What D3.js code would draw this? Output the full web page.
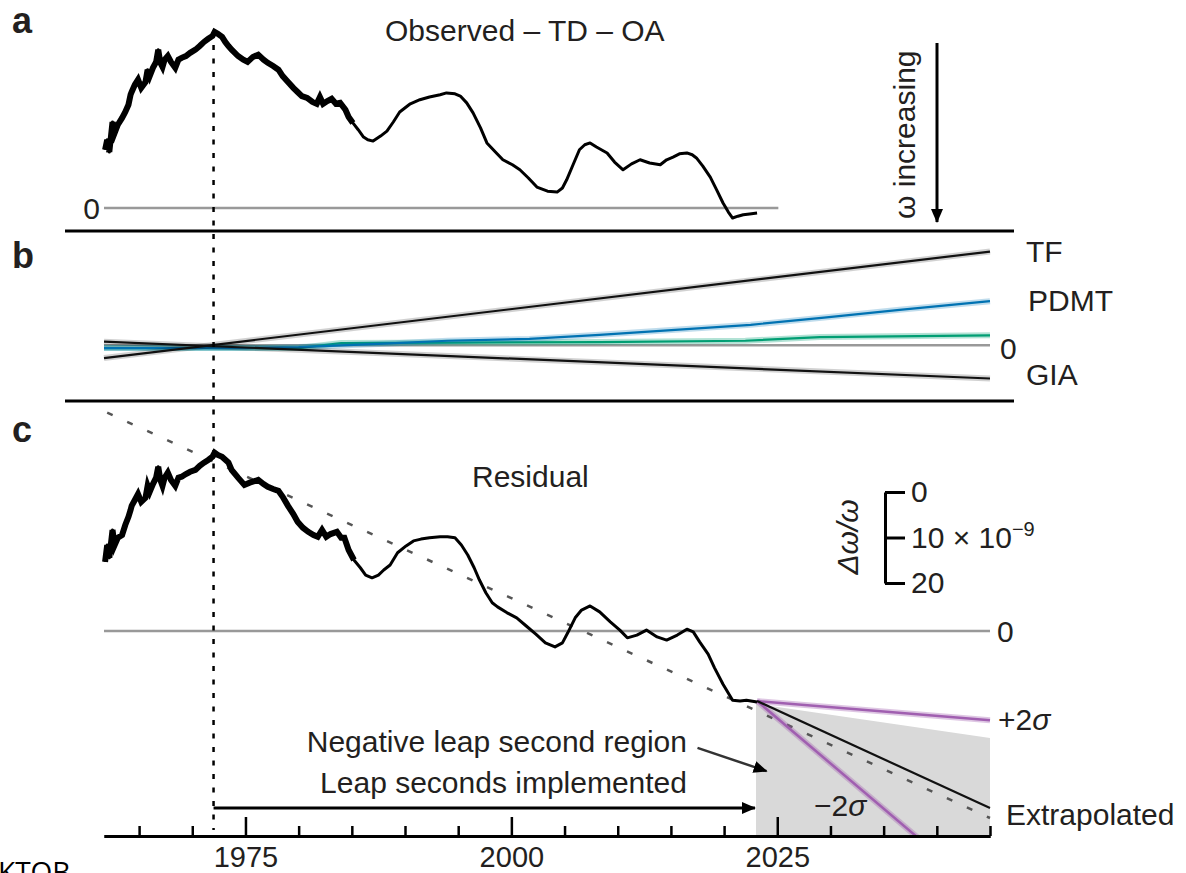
<!DOCTYPE html>
<html>
<head>
<meta charset="utf-8">
<script src="https://cdn.jsdelivr.net/npm/d3@7"></script>
<style>
	body { margin: 0; background: #fff; }
	svg { display: block; }
	text { font-family: "Liberation Sans", Arial, sans-serif; fill: #231f20; }
</style>
</head>
<body>
<svg id="chart" width="1186" height="873"></svg>
<script>

//Values are delta omega / omega in units of 1e-9, positive downward (omega increasing)

//panel a: observed - TD - OA  [year, value]
var observed = [
	[1961.8,-12.8],[1962.0,-15.0],[1962.2,-12.3],[1962.5,-18.9],[1962.7,-16.5],[1963.0,-18.3],[1963.4,-19.8],
	[1963.7,-21.1],[1964.0,-22.7],[1964.2,-24.9],[1964.3,-25.5],[1964.6,-27.1],[1964.9,-28.2],[1965.2,-26.4],
	[1965.6,-27.7],[1965.8,-30.4],[1966.0,-29.0],[1966.3,-30.8],[1966.6,-32.1],[1966.8,-34.8],[1967.0,-31.9],
	[1967.2,-31.0],[1967.4,-32.6],[1967.7,-33.4],[1968.0,-32.1],[1968.4,-30.8],[1968.7,-32.6],[1969.0,-33.0],
	[1969.4,-33.4],[1969.8,-34.1],[1970.3,-34.8],[1970.7,-35.6],[1971.1,-36.5],[1971.5,-37.2],[1971.9,-37.8],
	[1972.1,-38.7],[1972.4,-38.3],[1972.8,-37.6],[1973.1,-36.5],[1973.4,-35.6],[1973.7,-34.8],[1974.3,-33.4],
	[1974.8,-32.6],[1975.2,-32.1],[1975.7,-33.2],[1976.2,-33.7],[1976.7,-32.6],[1977.1,-31.9],[1977.6,-31.2],
	[1978.1,-30.4],[1978.5,-29.0],[1979.0,-27.7],[1979.5,-26.4],[1979.9,-25.5],[1980.3,-24.6],[1980.8,-24.2],
	[1981.3,-23.3],[1981.7,-22.9],[1982.0,-24.4],[1982.3,-22.9],[1982.7,-23.5],[1983.1,-24.0],[1983.5,-22.9],
	[1983.9,-23.1],[1984.4,-21.6],[1984.7,-20.0],[1985.1,-18.7],[1985.6,-17.2],[1986.1,-15.6],[1986.5,-15.0],
	[1987.0,-14.7],[1987.7,-15.8],[1988.3,-16.9],[1988.9,-18.9],[1989.5,-21.1],[1990.5,-22.9],[1991.4,-23.8],
	[1992.3,-24.4],[1993.3,-24.9],[1993.9,-25.3],[1994.7,-25.1],[1995.2,-24.6],[1995.8,-23.1],[1996.4,-20.9],
	[1997.1,-17.6],[1997.7,-14.3],[1998.5,-12.3],[1999.2,-10.6],[2000.1,-9.5],[2000.8,-8.4],[2001.6,-6.6],
	[2002.4,-4.6],[2003.4,-3.7],[2004.3,-3.5],[2004.8,-4.4],[2005.2,-6.2],[2005.8,-9.5],[2006.4,-12.8],
	[2006.9,-13.9],[2007.4,-14.3],[2008.0,-13.4],[2009.0,-12.1],[2009.7,-10.1],[2010.5,-8.4],[2011.3,-9.7],
	[2012.1,-10.6],[2013.0,-9.9],[2014.0,-9.5],[2014.6,-10.6],[2015.2,-11.2],[2015.8,-11.9],[2016.5,-12.1],
	[2017.0,-11.7],[2017.4,-11.0],[2018.0,-9.2],[2018.7,-6.8],[2019.3,-4.0],[2019.9,-1.1],[2020.4,0.9],
	[2020.8,2.2],[2021.3,1.8],[2021.8,1.5],[2022.4,1.3],[2023.1,1.1]
];

//panel b contributions
var tf = [[1961.7, 2.8], [2045, -20.6]];
var gia = [[1961.7, -0.8], [2045, 7.3]];
var pdmt = [[1961.7,0.6],[1975,0.6],[1980,0.4],[1987.5,-0.3],[1994,-1.0],[2001.7,-1.4],[2008.3,-2.3],
	[2015.4,-3.4],[2022.5,-4.5],[2029.4,-6.1],[2036.5,-7.8],[2045,-9.7]];
var green = [[1961.7,0.6],[1980,0.6],[1984,-0.5],[1995,-0.6],[2008.3,-0.7],[2022,-1.0],[2029,-1.8],[2045,-2.2]];

//panel c: residual
var residual = [
	[1961.8,-15.2],[1962.0,-18.9],[1962.2,-16.1],[1962.5,-22.2],[1962.7,-18.9],[1963.0,-20.5],[1963.4,-21.1],
	[1963.7,-23.3],[1964.0,-25.1],[1964.2,-26.6],[1964.3,-27.5],[1964.6,-28.8],[1964.9,-30.1],[1965.2,-28.4],
	[1965.6,-29.3],[1965.8,-31.9],[1966.0,-30.6],[1966.3,-32.3],[1966.6,-33.7],[1966.8,-36.1],[1967.0,-33.2],
	[1967.2,-31.9],[1967.4,-33.7],[1967.7,-34.8],[1968.0,-33.2],[1968.4,-31.9],[1968.7,-33.7],[1969.0,-33.9],
	[1969.4,-34.5],[1969.8,-35.0],[1970.3,-35.4],[1970.7,-36.3],[1971.1,-37.0],[1971.5,-37.6],[1971.9,-38.3],
	[1972.1,-39.2],[1972.4,-38.7],[1972.8,-38.3],[1973.4,-37.0],[1973.7,-35.4],[1974.3,-33.7],[1974.9,-32.1],
	[1975.4,-32.6],[1976.2,-33.2],[1976.7,-32.3],[1977.1,-31.7],[1977.6,-31.2],[1978.1,-30.8],[1978.5,-29.5],
	[1979.0,-27.5],[1979.5,-25.7],[1979.9,-24.0],[1980.4,-22.7],[1980.9,-21.8],[1981.4,-21.1],[1981.8,-20.7],
	[1982.2,-22.2],[1982.6,-20.7],[1983.0,-21.3],[1983.6,-21.8],[1984.0,-20.5],[1984.3,-20.5],[1984.7,-17.8],
	[1985.2,-15.6],[1985.8,-13.9],[1986.3,-12.3],[1986.9,-11.7],[1987.5,-12.3],[1988.0,-13.4],[1988.6,-14.5],
	[1989.3,-17.2],[1990.1,-18.7],[1990.8,-19.8],[1991.5,-20.2],[1992.3,-20.5],[1993.3,-20.7],[1994.0,-20.7],
	[1994.7,-20.5],[1995.3,-18.9],[1995.9,-16.7],[1996.5,-13.9],[1997.0,-11.2],[1997.6,-8.4],[1998.2,-6.2],
	[1998.7,-5.3],[1999.6,-4.0],[2000.5,-2.9],[2001.4,-1.1],[2002.3,0.7],[2003.2,2.6],[2004.1,3.5],
	[2004.8,2.6],[2005.3,0.4],[2006.0,-2.9],[2006.6,-4.6],[2007.4,-5.5],[2008.3,-4.2],[2009.3,-2.0],
	[2010.2,-0.2],[2010.9,1.5],[2011.8,0.9],[2012.7,-0.2],[2013.7,1.3],[2014.6,2.0],[2015.6,0.9],
	[2016.5,-0.4],[2017.1,0.2],[2017.7,2.4],[2018.5,5.1],[2019.1,8.1],[2019.9,11.7],[2020.8,15.2],
	[2021.5,15.4],[2022.1,15.2],[2023.1,15.6]
];

var fit = [[1962, -48.0], [2045, 41.1]];
var extrapolated = [[2023.1, 15.4], [2045, 38.9]];
var plus_2sigma = [[2023.1, 15.4], [2045, 19.6]];
var minus_2sigma = [[2023.1, 15.4], [2045, 58.9]];
var region_top = [[2023.0, 16.0], [2045, 23.5]];
var region_bottom = 45.1;

//axis ticks
var ticks_minor = [1965, 1970, 1980, 1985, 1990, 1995, 2005, 2010, 2015, 2020, 2030, 2035, 2040, 2045];
var ticks_major = [1975, 2000, 2025];
var scale_bar_major = [0, 10, 20];
var scale_bar_minor = [5, 15];

var leap_start = 1972;
var leap_arrow = [[1972, 38.9], [2022.9, 38.9]];
var negative_arrow = [[2017.5, 25.7], [2024.0, 30.8]];

//the early records are noisy, drawn with a heavier stroke
var noisy_until = 1985.5;


var svg = d3.select("#chart");
var unit_px = 4.55;

var x = d3.scaleLinear().domain([1961.7, 2045]).range([104, 990]);

//each panel has the same vertical scale, only the zero differs
function panelScale(zero_y)
{
	return d3.scaleLinear().domain([0, 10]).range([zero_y, zero_y + 10 * unit_px]);
}

var ya = panelScale(208);
var yb = panelScale(345.3);
var yc = panelScale(631);

function lineFor(scale_y)
{
	return d3.line()
		.x(function(d){ return x(d[0]); })
		.y(function(d){ return scale_y(d[1]); });
}

//arrow head
var defs = svg.append("defs");

defs.append("marker")
		.attr("id", "head")
		.attr("viewBox", "0 0 14 14")
		.attr("refX", 13)
		.attr("refY", 7)
		.attr("markerWidth", 14)
		.attr("markerHeight", 14)
		.attr("markerUnits", "userSpaceOnUse")
		.attr("orient", "auto")
		.append("path")
			.attr("d", "M0,1L14,7L0,13z")
			.attr("fill", "#000");

defs.append("clipPath")
		.attr("id", "clip_c")
		.append("rect")
			.attr("x", 0).attr("y", 405)
			.attr("width", 1186).attr("height", 836 - 405);

//panel separators
[231, 401].forEach(function(y)
	{
		svg.append("line")
			.attr("x1", 65).attr("x2", 1014)
			.attr("y1", y).attr("y2", y)
			.attr("stroke", "#000")
			.attr("stroke-width", 3);
	}
);

//draws a noisy record: a normal line plus a heavier one over the early part
function drawRecord(g, data, scale_y)
{
	g.append("path")
		.datum(data)
		.attr("d", lineFor(scale_y))
		.attr("fill", "none").attr("stroke", "#000").attr("stroke-width", 3)
		.attr("stroke-linejoin", "round");

	g.append("path")
		.datum(data.filter(function(d){ return d[0] < noisy_until; }))
		.attr("d", lineFor(scale_y))
		.attr("fill", "none").attr("stroke", "#000").attr("stroke-width", 6)
		.attr("stroke-linejoin", "miter");
}

//---------- panel a
var ga = svg.append("g");

ga.append("line")
	.attr("x1", x(1961.7)).attr("x2", x(2025.1))
	.attr("y1", ya(0)).attr("y2", ya(0))
	.attr("stroke", "#999").attr("stroke-width", 2.5);

drawRecord(ga, observed, ya);

//---------- panel b
var gb = svg.append("g");

gb.append("line")
	.attr("x1", x(1961.7)).attr("x2", x(2045))
	.attr("y1", yb(0)).attr("y2", yb(0))
	.attr("stroke", "#999").attr("stroke-width", 2.5);

function drawContribution(data, colour, halo)
{
	gb.append("path")
		.datum(data)
		.attr("d", lineFor(yb))
		.attr("fill", "none").attr("stroke", halo).attr("stroke-width", 6);
	gb.append("path")
		.datum(data)
		.attr("d", lineFor(yb))
		.attr("fill", "none").attr("stroke", colour).attr("stroke-width", 2.2);
}

drawContribution(green, "#009e73", "rgba(0,158,115,0.3)");
drawContribution(pdmt, "#0072b2", "rgba(0,114,178,0.25)");
drawContribution(tf, "#111", "rgba(0,0,0,0.18)");
drawContribution(gia, "#111", "rgba(0,0,0,0.18)");

//---------- panel c
var gc = svg.append("g");
var gc_clip = gc.append("g").attr("clip-path", "url(#clip_c)");

var region = region_top.concat([[2045, region_bottom], [2023.0, region_bottom]]);
gc_clip.append("path")
	.attr("d", lineFor(yc)(region) + "Z")
	.attr("fill", "#d9d9d9");

gc.append("line")
	.attr("x1", x(1961.7)).attr("x2", x(2045))
	.attr("y1", yc(0)).attr("y2", yc(0))
	.attr("stroke", "#999").attr("stroke-width", 2.5);

gc_clip.append("path")
	.datum(fit)
	.attr("d", lineFor(yc))
	.attr("fill", "none").attr("stroke", "#555").attr("stroke-width", 2.5)
	.attr("stroke-dasharray", "6,16");

[plus_2sigma, minus_2sigma].forEach(function(d)
	{
		gc_clip.append("path")
			.datum(d)
			.attr("d", lineFor(yc))
			.attr("fill", "none").attr("stroke", "rgba(160,95,176,0.35)").attr("stroke-width", 6);
		gc_clip.append("path")
			.datum(d)
			.attr("d", lineFor(yc))
			.attr("fill", "none").attr("stroke", "#a05fb0").attr("stroke-width", 2.5);
	}
);

gc_clip.append("path")
	.datum(extrapolated)
	.attr("d", lineFor(yc))
	.attr("fill", "none").attr("stroke", "#111").attr("stroke-width", 2.2);

drawRecord(gc, residual, yc);

//annotation arrows
gc.append("path")
	.datum(leap_arrow)
	.attr("d", lineFor(yc))
	.attr("fill", "none").attr("stroke", "#000").attr("stroke-width", 3)
	.attr("marker-end", "url(#head)");

gc.append("path")
	.datum(negative_arrow)
	.attr("d", lineFor(yc))
	.attr("fill", "none").attr("stroke", "#333").attr("stroke-width", 2.5)
	.attr("marker-end", "url(#head)");

//vertical dotted line at 1972
svg.append("line")
	.attr("x1", x(leap_start)).attr("x2", x(leap_start))
	.attr("y1", 45).attr("y2", 830)
	.attr("stroke", "#000").attr("stroke-width", 2.5)
	.attr("stroke-dasharray", "5,8.5");

//---------- time axis
var axis_y = 836;

var axis_minor = d3.axisBottom(x)
	.tickValues(ticks_minor)
	.tickSizeInner(-10)
	.tickSizeOuter(0)
	.tickFormat("");

var axis_major = d3.axisBottom(x)
	.tickValues(ticks_major)
	.tickSizeInner(-19)
	.tickSizeOuter(0)
	.tickPadding(10)
	.tickFormat(d3.format("d"));

var g_axis_minor = svg.append("g").attr("transform", "translate(0," + axis_y + ")").call(axis_minor);
var g_axis_major = svg.append("g").attr("transform", "translate(0," + axis_y + ")").call(axis_major);

[g_axis_minor, g_axis_major].forEach(function(g)
	{
		g.select(".domain").attr("stroke-width", 3).attr("stroke", "#000");
		g.selectAll(".tick line").attr("stroke-width", 2.5).attr("stroke", "#000");
		g.selectAll("text")
			.attr("font-size", 29)
			.attr("font-family", "Liberation Sans, Arial, sans-serif");
	}
);

//---------- scale bar
var bar = d3.scaleLinear().domain([0, 20]).range([492, 583]);

var g_bar = svg.append("g").attr("transform", "translate(885,0)");

g_bar.call(d3.axisRight(bar)
	.tickValues(scale_bar_minor)
	.tickSizeInner(11)
	.tickSizeOuter(0)
	.tickFormat(""));

g_bar.call(d3.axisRight(bar)
	.tickValues(scale_bar_major)
	.tickSizeInner(20)
	.tickSizeOuter(0)
	.tickPadding(6)
	.tickFormat(function(d){ return d; }));

g_bar.selectAll(".domain").attr("stroke-width", 3).attr("stroke", "#000");
g_bar.selectAll(".tick line").attr("stroke-width", 3).attr("stroke", "#000");
g_bar.selectAll("text")
	.attr("font-size", 30)
	.attr("font-family", "Liberation Sans, Arial, sans-serif")
	.each(function(d)
		{
			if (d == 10)
			{
				var t = d3.select(this).text("10 \u00d7 10");
				t.append("tspan").attr("dy", -12).attr("font-size", 20).text("\u22129");
			}
		}
	);

//---------- texts
function label(txt, xx, yy, opts)
{
	opts = opts || {};
	var t = svg.append("text")
		.attr("x", xx).attr("y", yy)
		.attr("font-size", opts.size || 30)
		.attr("text-anchor", opts.anchor || "start")
		.text(txt);
	if (opts.bold) t.attr("font-weight", "bold");
	return t;
}

label("a", 12, 33, {size: 36, bold: true});
label("b", 12, 268, {size: 36, bold: true});
label("c", 12, 442, {size: 36, bold: true});

label("Observed \u2013 TD \u2013 OA", 385, 41);
label("0", 100, 219, {anchor: "end"});

label("TF", 1026, 262);
label("PDMT", 1028, 311);
label("0", 1000, 359);
label("GIA", 1026, 385);

label("Residual", 472, 487);
label("0", 997, 642);
label("Negative leap second region", 687, 752, {anchor: "end"});
label("Leap seconds implemented", 687, 793, {anchor: "end"});
label("Extrapolated", 1006, 825);

var plus = label("+2", 998, 730);
plus.append("tspan").attr("font-style", "italic").text("\u03c3");
var minus = label("\u22122", 814, 816);
minus.append("tspan").attr("font-style", "italic").text("\u03c3");

//omega increasing, read bottom to top
var omega = svg.append("text")
	.attr("transform", "translate(915,219) rotate(-90)")
	.attr("font-size", 30);
omega.append("tspan").text("\u03c9");
omega.append("tspan").text(" increasing");

svg.append("line")
	.attr("x1", 937).attr("x2", 937)
	.attr("y1", 43).attr("y2", 222)
	.attr("stroke", "#000").attr("stroke-width", 3)
	.attr("marker-end", "url(#head)");

svg.append("text")
	.attr("transform", "translate(858,537) rotate(-90)")
	.attr("font-size", 30)
	.attr("font-style", "italic")
	.attr("text-anchor", "middle")
	.text("\u0394\u03c9/\u03c9");

//cut-off caption text at the bottom left
svg.append("text")
	.attr("x", -2).attr("y", 882)
	.attr("font-size", 28)
	.style("font-family", "'Open Sans', sans-serif")
	.style("fill", "#000")
	.text("KTOB");

</script>
</body>
</html>
